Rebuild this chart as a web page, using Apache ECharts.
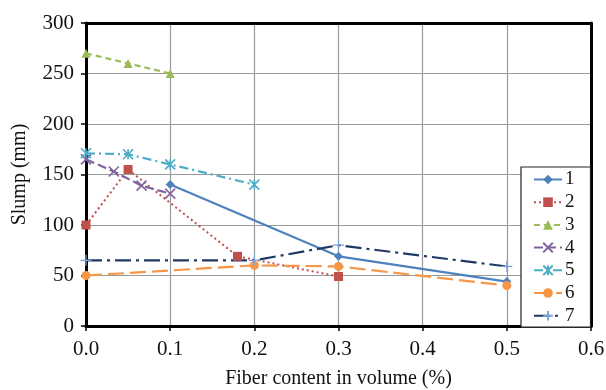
<!DOCTYPE html>
<html><head><meta charset="utf-8">
<script src="https://cdn.jsdelivr.net/npm/echarts@6/dist/echarts.min.js"></script>
<style>html,body{margin:0;padding:0;background:#fff}#c{width:606px;height:390px}</style>
</head><body><div id="c"></div>
<script>
const xTicks = [0, 0.1, 0.2, 0.3, 0.4, 0.5, 0.6];
const yTicks = [0, 50, 100, 150, 200, 250, 300];
const seriesNames = ['1','2','3','4','5','6','7'];
const s1 = [[0.1,140],[0.3,69],[0.5,44]];
const s2 = [[0,100],[0.05,155],[0.18,69],[0.3,49]];
const s3 = [[0,270],[0.05,260],[0.1,250]];
const s4 = [[0,165],[0.033,153],[0.066,139],[0.1,131]];
const s5 = [[0,171],[0.05,170],[0.1,160],[0.2,140]];
const s6 = [[0,50],[0.2,60],[0.3,59],[0.5,40]];
const s7 = [[0,65],[0.2,65],[0.3,80],[0.5,59]];

const F = 'Liberation Serif';
const crossPath = 'path://M0,0L10,10M10,0L0,10';
const starPath = 'path://M0,0L10,10M10,0L0,10M5,0L5,10';
const plusPath = 'path://M5,0L5,10M0,5L10,5';

function mk(name, data, color, lineType, symbol, size, extra) {
  const o = {
    name, type: 'line', data, symbol, symbolSize: size,
    lineStyle: {color, width: 2.2, type: lineType},
    itemStyle: {color, borderColor: color, borderWidth: 0},
    z: 3
  };
  return Object.assign(o, extra || {});
}

const series = [
  mk('1', s1, '#4F81BD', 'solid', 'diamond', 9),
  mk('2', s2, '#C0504D', [2,3], 'rect', 9, {lineStyle:{color:'#C0504D',width:2,type:[2,3]}}),
  mk('3', s3, '#9BBB59', [6,4], 'triangle', 9),
  mk('4', s4, '#8064A2', [9,4], crossPath, 10, {itemStyle:{color:'#8064A2',borderColor:'#8064A2',borderWidth:1.6}}),
  mk('5', s5, '#4BACC6', [9,4,2,4], starPath, 10, {itemStyle:{color:'#4BACC6',borderColor:'#4BACC6',borderWidth:1.6}}),
  mk('6', s6, '#F79646', [16,6], 'circle', 9),
  mk('7', s7, '#1F3864', [16,5,3,5], plusPath, 11, {itemStyle:{color:'#7FA0D8',borderColor:'#7FA0D8',borderWidth:1.2}})
];

const frameAxis = {
  show: true, axisLine: {show: true, onZero: false, lineStyle: {color: '#000', width: 3}},
  axisTick: {show: false}, axisLabel: {show: false}, splitLine: {show: false}
};

const chart = echarts.init(document.getElementById('c'));
chart.setOption({
  animation: false,
  backgroundColor: '#fff',
  grid: {left: 86, right: 15, top: 23, bottom: 64, containLabel: false, outerBoundsMode: 'none'},
  xAxis: [{
    type: 'value', min: xTicks[0], max: xTicks[xTicks.length-1], interval: 0.1,
    name: 'Fiber content in volume (%)', nameLocation: 'middle', nameGap: 43,
    nameTextStyle: {fontFamily: F, fontSize: 20, color: '#111'},
    axisLine: {show: true, onZero: false, lineStyle: {color: '#000', width: 3}},
    axisTick: {show: true, length: 5, lineStyle: {color: '#000', width: 1.5}},
    axisLabel: {fontFamily: F, fontSize: 21, color: '#111', margin: 13, formatter: v => v.toFixed(1)},
    splitLine: {show: true, lineStyle: {color: '#9a9a9a', width: 1.2}}
  }, Object.assign({type: 'value', position: 'top', min: 0, max: 0.6}, frameAxis)],
  yAxis: [{
    type: 'value', min: yTicks[0], max: yTicks[yTicks.length-1], interval: 50,
    name: 'Slump (mm)', nameLocation: 'middle', nameGap: 56,
    nameTextStyle: {fontFamily: F, fontSize: 20, color: '#111'},
    axisLine: {show: true, onZero: false, lineStyle: {color: '#000', width: 3}},
    axisTick: {show: true, length: 5, lineStyle: {color: '#000', width: 1.5}},
    axisLabel: {fontFamily: F, fontSize: 21, color: '#111', margin: 12},
    splitLine: {show: true, lineStyle: {color: '#9a9a9a', width: 1.2}}
  }, Object.assign({type: 'value', position: 'right', min: 0, max: 300}, frameAxis)],
  legend: {
    data: seriesNames, orient: 'vertical', left: 521, top: 167,
    backgroundColor: '#fff', borderColor: '#222', borderWidth: 1.2,
    padding: [3, 16, 2, 12], itemGap: 3.7, itemWidth: 28, itemHeight: 12,
    textStyle: {fontFamily: F, fontSize: 19, lineHeight: 18, color: '#111', padding: [0,0,0,-2]},
    z: 10
  },
  series
});
</script></body></html>
